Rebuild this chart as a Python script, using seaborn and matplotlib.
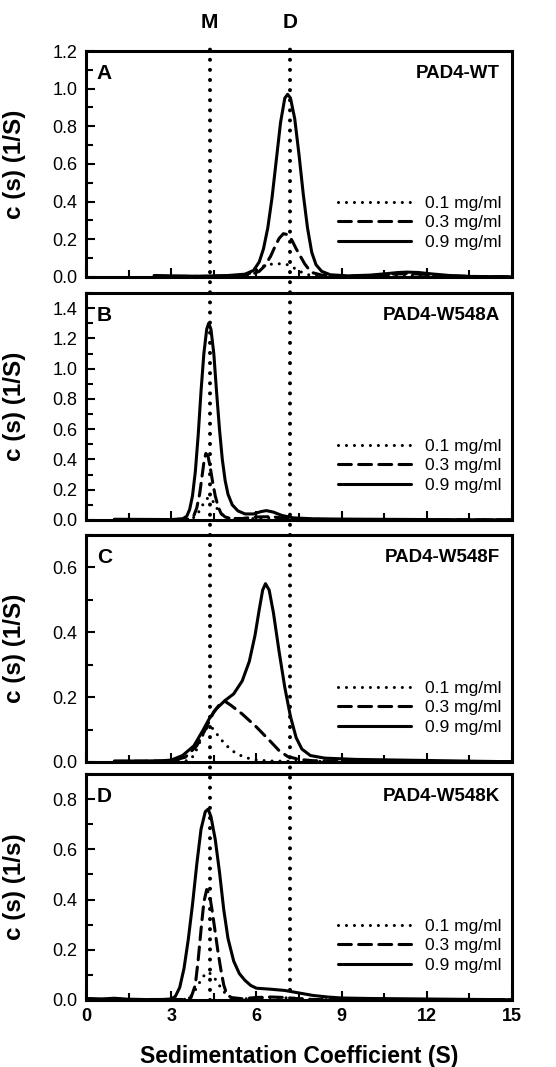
import matplotlib
matplotlib.use("Agg")
import matplotlib.pyplot as plt
import matplotlib.transforms as mtransforms
from matplotlib.lines import Line2D
from matplotlib.ticker import MultipleLocator, FormatStrFormatter
import seaborn as sns

# concentrations shown in every panel
conc_labels = ["0.1 mg/ml", "0.3 mg/ml", "0.9 mg/ml"]

# monomer / dimer marker positions (S)
marker_names = ["M", "D"]
marker_pos = [4.35, 7.2]

# panel A: PAD4-WT
a_x_01 = [2.4, 4.0, 5.0, 5.6, 5.9, 6.1, 6.3, 6.6, 6.9, 7.1, 7.3, 7.5, 7.7, 7.9, 8.2, 9.0, 10.5, 11.3, 12.2, 13.5, 15.0]
a_y_01 = [0.003, 0.003, 0.006, 0.012, 0.025, 0.045, 0.062, 0.07, 0.07, 0.065, 0.05, 0.032, 0.018, 0.009, 0.004, 0.002, 0.006, 0.009, 0.006, 0.002, 0.001]
a_x_03 = [2.4, 4.0, 5.0, 5.8, 6.1, 6.3, 6.5, 6.65, 6.8, 6.95, 7.1, 7.25, 7.4, 7.55, 7.7, 7.85, 8.0, 8.3, 9.0, 10.0, 10.8, 11.3, 11.8, 12.5, 13.5, 15.0]
a_y_03 = [0.004, 0.003, 0.005, 0.012, 0.03, 0.06, 0.11, 0.16, 0.205, 0.23, 0.225, 0.195, 0.15, 0.11, 0.07, 0.04, 0.022, 0.01, 0.004, 0.006, 0.015, 0.018, 0.015, 0.008, 0.003, 0.001]
a_x_09 = [2.4, 3.0, 4.0, 5.0, 5.6, 5.9, 6.1, 6.25, 6.4, 6.55, 6.7, 6.85, 7.0, 7.1, 7.2, 7.35, 7.5, 7.65, 7.8, 7.95, 8.1, 8.3, 8.6, 9.2, 10.0, 10.6, 11.0, 11.3, 11.7, 12.2, 12.8, 13.5, 15.0]
a_y_09 = [0.008, 0.006, 0.004, 0.008, 0.015, 0.035, 0.08, 0.15, 0.26, 0.42, 0.62, 0.82, 0.95, 0.97, 0.95, 0.84, 0.65, 0.44, 0.26, 0.13, 0.065, 0.03, 0.012, 0.006, 0.01, 0.018, 0.024, 0.026, 0.024, 0.016, 0.008, 0.003, 0.001]

# panel B: PAD4-W548A
b_x_01 = [1.0, 3.0, 3.7, 3.9, 4.05, 4.2, 4.32, 4.45, 4.6, 4.75, 4.95, 5.3, 6.0, 6.6, 7.2, 8.0, 10.0, 15.0]
b_y_01 = [0.002, 0.002, 0.005, 0.03, 0.08, 0.13, 0.15, 0.13, 0.08, 0.04, 0.015, 0.005, 0.01, 0.015, 0.01, 0.004, 0.002, 0.001]
b_x_03 = [1.0, 3.0, 3.6, 3.8, 3.9, 4.0, 4.08, 4.15, 4.22, 4.3, 4.38, 4.46, 4.55, 4.65, 4.75, 4.9, 5.1, 5.5, 6.0, 6.5, 7.0, 7.5, 8.5, 10.0, 12.0, 15.0]
b_y_03 = [0.003, 0.002, 0.006, 0.03, 0.08, 0.17, 0.28, 0.38, 0.44, 0.42, 0.34, 0.25, 0.16, 0.09, 0.045, 0.02, 0.01, 0.01, 0.02, 0.022, 0.012, 0.006, 0.003, 0.002, 0.001, 0.001]
b_x_09 = [1.0, 2.0, 3.0, 3.4, 3.55, 3.65, 3.75, 3.85, 3.95, 4.05, 4.15, 4.25, 4.32, 4.4, 4.5, 4.6, 4.7, 4.8, 4.9, 5.0, 5.15, 5.35, 5.6, 5.9, 6.15, 6.35, 6.6, 6.9, 7.3, 8.0, 9.0, 11.0, 13.0, 15.0]
b_y_09 = [0.005, 0.004, 0.003, 0.008, 0.025, 0.07, 0.16, 0.32, 0.56, 0.85, 1.1, 1.26, 1.3, 1.26, 1.1, 0.84, 0.6, 0.4, 0.26, 0.17, 0.1, 0.06, 0.04, 0.04, 0.055, 0.062, 0.052, 0.03, 0.014, 0.008, 0.006, 0.004, 0.002, 0.001]

# panel C: PAD4-W548F
c_x_01 = [1.0, 3.0, 3.6, 3.8, 4.0, 4.2, 4.35, 4.5, 4.7, 4.9, 5.1, 5.3, 5.6, 6.0, 6.5, 7.5, 9.0, 15.0]
c_y_01 = [0.002, 0.002, 0.004, 0.02, 0.06, 0.1, 0.112, 0.1, 0.075, 0.055, 0.038, 0.026, 0.014, 0.006, 0.003, 0.002, 0.002, 0.001]
c_x_03 = [1.0, 3.0, 3.5, 3.9, 4.2, 4.5, 4.75, 4.88, 5.1, 5.5, 6.0, 6.5, 6.8, 7.1, 7.5, 8.0, 9.0, 11.0, 15.0]
c_y_03 = [0.002, 0.003, 0.015, 0.05, 0.1, 0.155, 0.182, 0.188, 0.175, 0.148, 0.108, 0.063, 0.035, 0.017, 0.008, 0.004, 0.003, 0.002, 0.001]
c_x_09 = [1.0, 2.0, 2.7, 3.0, 3.4, 3.8, 4.1, 4.35, 4.6, 4.9, 5.2, 5.5, 5.75, 5.95, 6.1, 6.22, 6.32, 6.45, 6.6, 6.8, 7.0, 7.2, 7.4, 7.6, 7.9, 8.4, 9.5, 11.0, 12.5, 14.0, 15.0]
c_y_09 = [0.003, 0.003, 0.004, 0.006, 0.02, 0.05, 0.095, 0.135, 0.165, 0.19, 0.21, 0.25, 0.31, 0.39, 0.47, 0.53, 0.55, 0.53, 0.46, 0.34, 0.23, 0.14, 0.075, 0.04, 0.02, 0.012, 0.008, 0.006, 0.004, 0.002, 0.001]

# panel D: PAD4-W548K
d_x_01 = [0.1, 2.0, 3.6, 3.8, 4.0, 4.2, 4.3, 4.45, 4.6, 4.8, 5.0, 5.3, 6.0, 6.5, 7.2, 8.0, 10.0, 15.0]
d_y_01 = [0.002, 0.002, 0.003, 0.03, 0.07, 0.105, 0.11, 0.1, 0.075, 0.04, 0.015, 0.004, 0.006, 0.01, 0.008, 0.002, 0.001, 0.001]
d_x_03 = [0.1, 2.0, 3.5, 3.7, 3.85, 3.95, 4.05, 4.15, 4.25, 4.35, 4.45, 4.55, 4.65, 4.75, 4.85, 4.95, 5.1, 5.5, 6.0, 6.5, 7.0, 7.5, 8.0, 10.0, 15.0]
d_y_03 = [0.003, 0.002, 0.002, 0.01, 0.06, 0.16, 0.28, 0.39, 0.44, 0.42, 0.35, 0.27, 0.19, 0.12, 0.06, 0.025, 0.01, 0.005, 0.01, 0.012, 0.01, 0.005, 0.002, 0.001, 0.001]
d_x_09 = [0.1, 0.5, 1.0, 1.5, 2.5, 3.0, 3.15, 3.3, 3.45, 3.6, 3.75, 3.9, 4.05, 4.2, 4.3, 4.4, 4.55, 4.7, 4.85, 5.0, 5.2, 5.4, 5.6, 5.8, 6.0, 6.5, 7.0, 7.5, 8.0, 8.5, 9.0, 10.0, 12.0, 14.0, 15.0]
d_y_09 = [0.006, 0.004, 0.007, 0.003, 0.001, 0.004, 0.015, 0.05, 0.125, 0.24, 0.38, 0.54, 0.68, 0.75, 0.76, 0.73, 0.64, 0.51, 0.36, 0.245, 0.155, 0.105, 0.078, 0.058, 0.047, 0.043, 0.038, 0.028, 0.018, 0.012, 0.008, 0.006, 0.004, 0.002, 0.001]

panel_letters = ["A", "B", "C", "D"]
panel_titles = ["PAD4-WT", "PAD4-W548A", "PAD4-W548F", "PAD4-W548K"]
y_labels = ["c (s) (1/S)", "c (s) (1/S)", "c (s) (1/S)", "c (s) (1/s)"]
y_tops = [1.2, 1.5, 0.7, 0.9]

series = [
    [(a_x_01, a_y_01), (a_x_03, a_y_03), (a_x_09, a_y_09)],
    [(b_x_01, b_y_01), (b_x_03, b_y_03), (b_x_09, b_y_09)],
    [(c_x_01, c_y_01), (c_x_03, c_y_03), (c_x_09, c_y_09)],
    [(d_x_01, d_y_01), (d_x_03, d_y_03), (d_x_09, d_y_09)],
]

sns.set_theme(style="ticks")
plt.rcParams['font.family'] = ['Liberation Sans', 'DejaVu Sans']
plt.rcParams.update({"text.color": "black", "axes.labelcolor": "black",
                     "xtick.color": "black", "ytick.color": "black"})

W, H = 556, 1067
fig = plt.figure(figsize=(W / 100, H / 100), dpi=100)

# panel boxes in pixels (top, bottom)
left_px, right_px = 86, 512
boxes = [(51, 277), (293, 520), (535, 762), (774, 1000)]

line_styles = [(0, (0.01, 2.6)), (0, (4.2, 2.4)), "-"]

axes = []
for i, (top, bot) in enumerate(boxes):
    ax = fig.add_axes([left_px / W, 1 - bot / H, (right_px - left_px) / W, (bot - top) / H])
    axes.append(ax)
    for (xs, ys), lab, ls in zip(series[i], conc_labels, line_styles):
        sns.lineplot(x=xs, y=ys, ax=ax, color="black", linewidth=2.2,
                     linestyle=ls, dash_capstyle="round", label=lab,
                     estimator=None, sort=False)
    ax.set_xlim(0, 15)
    ax.set_ylim(0, y_tops[i])
    ax.xaxis.set_major_locator(MultipleLocator(3))
    ax.xaxis.set_minor_locator(MultipleLocator(1.5))
    ax.yaxis.set_major_locator(MultipleLocator(0.2))
    ax.yaxis.set_minor_locator(MultipleLocator(0.1))
    ax.yaxis.set_major_formatter(FormatStrFormatter('%.1f'))
    ax.tick_params(which="both", direction="in", top=False, right=False, width=1.5, colors="black")
    ax.tick_params(which="major", length=6.5, labelsize=13, pad=6)
    ax.tick_params(which="minor", length=5)
    for sp in ax.spines.values():
        sp.set_linewidth(2.2)
        sp.set_color("black")
        sp.set_visible(True)
    ax.set_ylabel(y_labels[i], fontsize=17.5, fontweight="bold")
    ax.yaxis.set_label_coords(-0.14, 0.5)
    ax.set_xlabel("")
    if i < 3:
        ax.tick_params(labelbottom=False)
    ax.text(0.025, 0.90, panel_letters[i], transform=ax.transAxes, fontsize=15,
            fontweight="bold", ha="left", va="center")
    ax.text(0.972, 0.90, panel_titles[i], transform=ax.transAxes, fontsize=13.5,
            fontweight="bold", ha="right", va="center")
    ax.legend(loc="center right", bbox_to_anchor=(0.975, 0.24), frameon=False,
              fontsize=12.5, handlelength=4.2, handletextpad=0.8, labelspacing=0.25,
              borderpad=0, borderaxespad=0)

axes[-1].set_xlabel("Sedimentation Coefficient (S)", fontsize=16.5, fontweight="bold", labelpad=14)
for t in axes[-1].get_xticklabels():
    t.set_fontweight("bold")

# M / D dotted guide lines running through all panels
trans = mtransforms.blended_transform_factory(axes[-1].transData, fig.transFigure)
for name, xpos in zip(marker_names, marker_pos):
    ln = Line2D([xpos, xpos], [1 - 1000 / H, 1 - 43 / H], transform=trans,
                color="black", linewidth=2.9, linestyle=(0, (0.01, 2.5)),
                dash_capstyle="round", zorder=5)
    fig.add_artist(ln)
    fig.text(xpos, 1 - 22 / H, name, transform=trans, fontsize=15,
             fontweight="bold", ha="center", va="center")

fig.savefig("out.png", dpi=100)
